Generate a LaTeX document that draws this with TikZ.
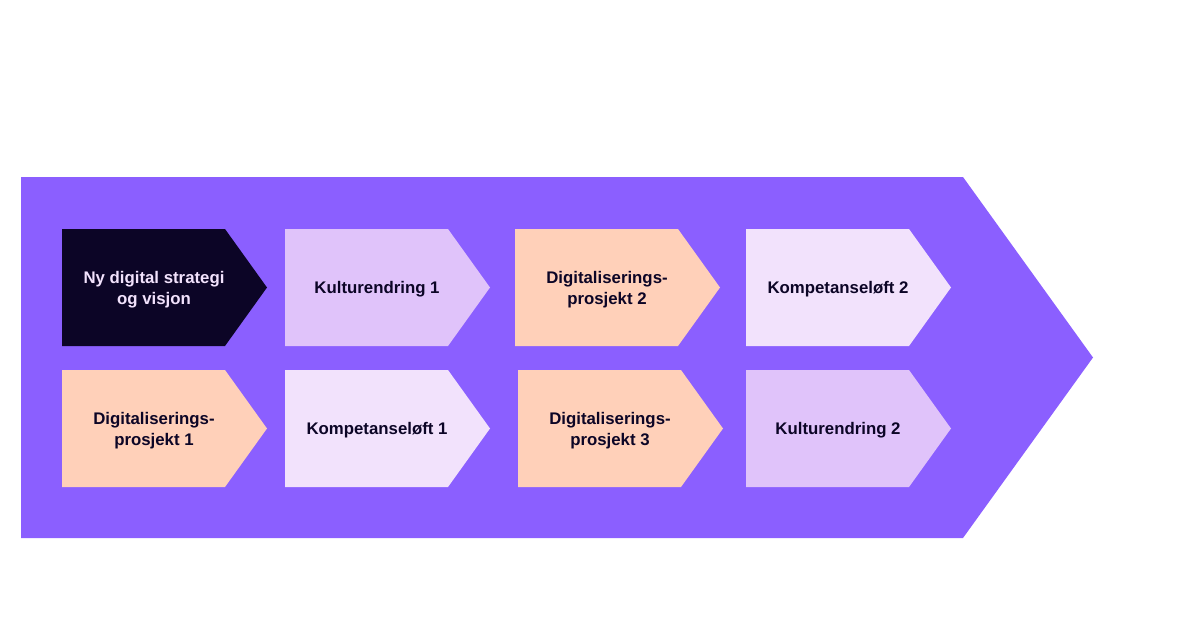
\documentclass[tikz,border=0pt]{standalone}
\usepackage{fontspec}
\setmainfont{Liberation Sans}
\usepackage{xcolor}

\definecolor{bandpurple}{HTML}{8B5FFF}
\definecolor{inkdark}{HTML}{0C0526}
\definecolor{peach}{HTML}{FFD0B9}
\definecolor{lavender}{HTML}{E0C3FA}
\definecolor{palelilac}{HTML}{F2E2FC}

\begin{document}
\begin{tikzpicture}[x=1pt, y=-1pt,
    steptext/.style={font=\bfseries\fontsize{16.8}{20.9}\selectfont, align=center, inner sep=0pt}]
    \useasboundingbox (0,0) rectangle (1200,626);
    % big background arrow
    \fill[bandpurple] (21,177) -- (963,177) -- (1093,357.5) -- (963,538) -- (21,538) -- cycle;
    % step chevrons
    \foreach \x/\y/\col/\tcol/\nm/\txt in {
        62/229/inkdark/palelilac/strategi/{Ny digital strategi\\og visjon},
        285/229/lavender/inkdark/kultur1/{Kulturendring 1},
        515/229/peach/inkdark/prosjekt2/{Digitaliserings-\\prosjekt 2},
        746/229/palelilac/inkdark/kompetanse2/{Kompetanseløft 2},
        62/370/peach/inkdark/prosjekt1/{Digitaliserings-\\prosjekt 1},
        285/370/palelilac/inkdark/kompetanse1/{Kompetanseløft 1},
        518/370/peach/inkdark/prosjekt3/{Digitaliserings-\\prosjekt 3},
        746/370/lavender/inkdark/kultur2/{Kulturendring 2}} {
        \fill[\col] (\x,\y) -- ++(163,0) -- ++(42,58.5) -- ++(-42,58.5) -- ++(-163,0) -- cycle;
        \node[steptext, text=\tcol] (\nm) at (\x+92,\y+60.5) {\txt};
    }
\end{tikzpicture}
\end{document}
